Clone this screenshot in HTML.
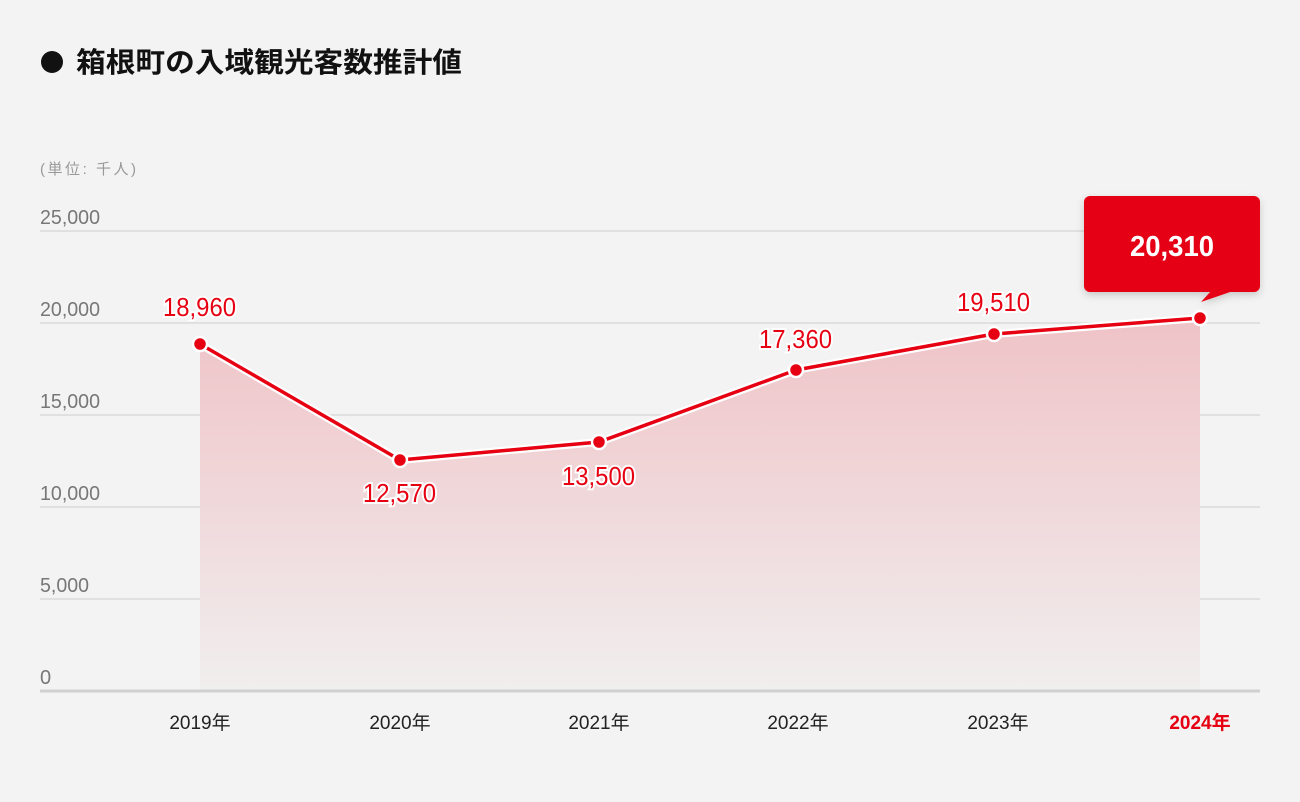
<!DOCTYPE html>
<html><head><meta charset="utf-8"><style>
html,body{margin:0;padding:0;background:#f3f3f3;}
svg{display:block;font-family:"Liberation Sans","Noto Sans CJK JP",sans-serif;}
</style></head><body>
<svg width="1300" height="802" viewBox="0 0 1300 802" xmlns="http://www.w3.org/2000/svg">
<defs>
<linearGradient id="g" x1="0" y1="0" x2="0" y2="1">
<stop offset="0" stop-color="#efc3c7"/><stop offset="1" stop-color="#f1eeee"/>
</linearGradient>
<filter id="sh" x="-20%" y="-20%" width="140%" height="150%"><feDropShadow dx="0" dy="3" stdDeviation="4" flood-color="#000" flood-opacity="0.18"/></filter>
</defs>
<rect width="1300" height="802" fill="#f3f3f3"/>
<circle cx="52" cy="62" r="11" fill="#111"/>
<text x="76" y="72" font-size="28" font-weight="bold" fill="#111" textLength="386" lengthAdjust="spacingAndGlyphs">箱根町の入域観光客数推計値</text>
<text x="40" y="174" font-size="15" fill="#999" textLength="96">(単位: 千人)</text>
<g stroke="#d9d9d9" stroke-width="1.5">
<line x1="40" y1="231" x2="1260" y2="231"/><line x1="40" y1="323" x2="1260" y2="323"/>
<line x1="40" y1="415" x2="1260" y2="415"/><line x1="40" y1="507" x2="1260" y2="507"/>
<line x1="40" y1="599" x2="1260" y2="599"/>
</g>
<g font-size="20" fill="#777">
<text x="40" y="224" textLength="60" lengthAdjust="spacingAndGlyphs">25,000</text>
<text x="40" y="316" textLength="60" lengthAdjust="spacingAndGlyphs">20,000</text>
<text x="40" y="408" textLength="60" lengthAdjust="spacingAndGlyphs">15,000</text>
<text x="40" y="500" textLength="60" lengthAdjust="spacingAndGlyphs">10,000</text>
<text x="40" y="592" textLength="49" lengthAdjust="spacingAndGlyphs">5,000</text>
<text x="40" y="684">0</text>
</g>
<path d="M200,344 L400,460 L599,442 L796,370 L994,334 L1200,318 L1200,691 L200,691 Z" fill="url(#g)"/>
<polyline points="200,344 400,460 599,442 796,370 994,334 1200,318" fill="none" stroke="#fff" stroke-width="8" stroke-linejoin="round"/>
<polyline points="200,344 400,460 599,442 796,370 994,334 1200,318" fill="none" stroke="#e60012" stroke-width="3.5" stroke-linejoin="round"/>
<g fill="#e60012" stroke="#fff" stroke-width="2.5">
<circle cx="200" cy="344" r="7"/><circle cx="400" cy="460" r="7"/><circle cx="599" cy="442" r="7"/>
<circle cx="796" cy="370" r="7"/><circle cx="994" cy="334" r="7"/><circle cx="1200" cy="318" r="7"/>
</g>
<line x1="40" y1="691" x2="1260" y2="691" stroke="#d0d0d0" stroke-width="3"/>
<g font-size="26" fill="#e60012" stroke="#fff" stroke-width="4" paint-order="stroke">
<text x="163" y="316" textLength="73" lengthAdjust="spacingAndGlyphs">18,960</text>
<text x="363" y="502" textLength="73" lengthAdjust="spacingAndGlyphs">12,570</text>
<text x="562" y="485" textLength="73" lengthAdjust="spacingAndGlyphs">13,500</text>
<text x="759" y="348" textLength="73" lengthAdjust="spacingAndGlyphs">17,360</text>
<text x="957" y="311" textLength="73" lengthAdjust="spacingAndGlyphs">19,510</text>
</g>
<g filter="url(#sh)">
<rect x="1084" y="196" width="176" height="96" rx="6" fill="#e60012"/>
<path d="M1212,290 L1236,290 L1201,302 Z" fill="#e60012"/>
</g>
<text x="1130" y="256" font-size="29" font-weight="bold" fill="#fff" textLength="84" lengthAdjust="spacingAndGlyphs">20,310</text>
<g font-size="19" fill="#222" text-anchor="middle">
<text x="200" y="729">2019年</text><text x="400" y="729">2020年</text><text x="599" y="729">2021年</text>
<text x="798" y="729">2022年</text><text x="998" y="729">2023年</text>
<text x="1200" y="729" fill="#e60012" font-weight="bold">2024年</text>
</g>
</svg>
</body></html>
